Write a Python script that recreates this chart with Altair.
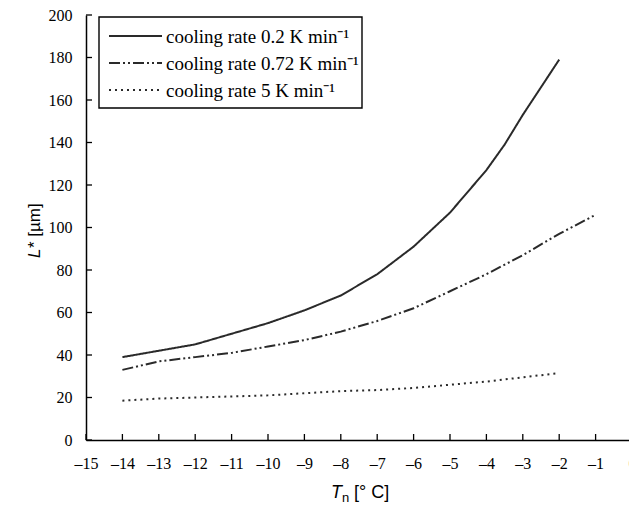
import altair as alt
import pandas as pd

x_slow = [-14, -13, -12, -11, -10, -9, -8, -7, -6, -5, -4, -3.5, -3, -2.5, -2]
y_slow = [39, 42, 45, 50, 55, 61, 68, 78, 91, 107, 127, 139, 153, 166, 179]

x_mid = [-14, -13, -12, -11, -10, -9, -8, -7, -6, -5, -4, -3, -2, -1]
y_mid = [33, 37, 39, 41, 44, 47, 51, 56, 62, 70, 78, 87, 97, 106]

x_fast = [-14, -13, -12, -11, -10, -9, -8, -7, -6, -5, -4, -3, -2]
y_fast = [18.5, 19.5, 20, 20.5, 21, 22, 23, 23.5, 24.5, 26, 27.5, 29.5, 31.5]

series_names = ["cooling rate 0.2 K min\u207b\u00b9",
                "cooling rate 0.72 K min\u207b\u00b9",
                "cooling rate 5 K min\u207b\u00b9"]

x_ticks = list(range(-15, 1))
y_ticks = list(range(0, 201, 20))

rows = []
for xs, ys, name in [(x_slow, y_slow, series_names[0]),
                     (x_mid, y_mid, series_names[1]),
                     (x_fast, y_fast, series_names[2])]:
    for a, b in zip(xs, ys):
        rows.append({"T": a, "L": b, "series": name})
df = pd.DataFrame(rows)

dashes = [[1, 0], [11, 3, 2, 3, 2, 3], [2, 4]]

xscale = alt.Scale(domain=[-15, 0], nice=False, zero=False)
yscale = alt.Scale(domain=[0, 200], nice=False)

xaxis = alt.Axis(values=x_ticks, title="", ticks=False,
                 labelFont="Liberation Serif", labelFontSize=16,
                 labelPadding=15, labelColor="black", labelOverlap=False,
                 labelBound=False,
                 domainColor="black", domainWidth=1.5, grid=False,
                 labelFlush=False, labelExpr="replace(datum.label, '\u2212', '\u2013')")
yaxis = alt.Axis(values=y_ticks, title="", ticks=False,
                 labelFont="Liberation Serif", labelFontSize=16,
                 labelPadding=14, labelColor="black", labelOverlap=False,
                 domainColor="black", domainWidth=1.5, grid=False,
                 labelFlush=False)

lines = alt.Chart(df).mark_line(color="#2a2a2a", strokeWidth=2).encode(
    x=alt.X("T:Q", scale=xscale, axis=xaxis, title=""),
    y=alt.Y("L:Q", scale=yscale, axis=yaxis, title=""),
    strokeDash=alt.StrokeDash("series:N", scale=alt.Scale(domain=series_names, range=dashes), legend=None),
    detail="series:N",
)

xt = pd.DataFrame({"v": x_ticks})
xtick = alt.Chart(xt).mark_rule(color="black", strokeWidth=1.3).encode(
    x=alt.X("v:Q", scale=xscale, axis=xaxis, title=""),
    y=alt.value(425), y2=alt.value(419))
yt = pd.DataFrame({"v": y_ticks})
ytick = alt.Chart(yt).mark_rule(color="black", strokeWidth=1.3).encode(
    y=alt.Y("v:Q", scale=yscale, axis=yaxis, title=""),
    x=alt.value(0), x2=alt.value(6))

one = pd.DataFrame({"a": [0]})
box = alt.Chart(one).mark_rect(fill="white", stroke="black", strokeWidth=1.4).encode(
    x=alt.value(13), x2=alt.value(276), y=alt.value(2), y2=alt.value(93))

legend_layers = [box]
row_y = [21, 48, 75]
for name, dash, yy in zip(series_names, dashes, row_y):
    legend_layers.append(
        alt.Chart(one).mark_rule(color="#2a2a2a", strokeWidth=2, strokeDash=dash).encode(
            x=alt.value(23), x2=alt.value(76), y=alt.value(yy)))
    legend_layers.append(
        alt.Chart(one).mark_text(align="left", baseline="middle", font="Liberation Serif",
                                 fontSize=19, color="black", text=name).encode(
            x=alt.value(80), y=alt.value(yy + 1)))

# axis titles built from pieces (italic symbol, subscript)
title_parts = [
    dict(text="T", x=245, y=483, size=18, style="italic", angle=0),
    dict(text="n", x=256, y=487, size=13, style="normal", angle=0),
    dict(text="[\u00b0 C]", x=268, y=483, size=18, style="normal", angle=0),
    dict(text="L", x=-46, y=243, size=17, style="italic", angle=270),
    dict(text="* [\u00b5m]", x=-46, y=233, size=17, style="normal", angle=270),
]
title_layers = []
for p in title_parts:
    title_layers.append(
        alt.Chart(one).mark_text(align="left", baseline="alphabetic", font="Liberation Sans",
                                 fontSize=p["size"], fontStyle=p["style"], angle=p["angle"],
                                 color="black", text=p["text"]).encode(
            x=alt.value(p["x"]), y=alt.value(p["y"])))

chart = alt.layer(lines, xtick, ytick, *legend_layers, *title_layers).properties(
    width=546, height=425,
    autosize=alt.AutoSizeParams(type="none"),
    padding={"left": 78, "top": 7, "right": -3, "bottom": 64},
).configure_view(stroke=None)

chart.save("out.html", embed_options={"renderer": "svg", "actions": False})
